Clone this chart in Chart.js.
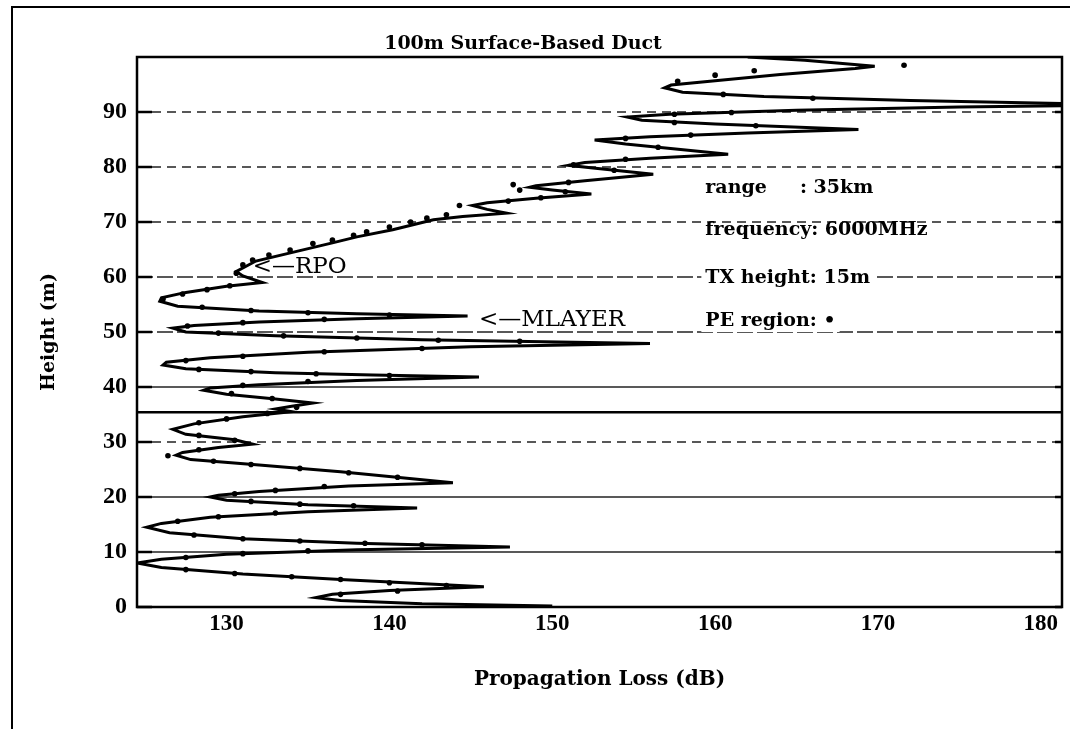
<!DOCTYPE html>
<html>
<head>
<meta charset="utf-8">
<script src="https://cdn.jsdelivr.net/npm/chart.js@4/dist/chart.umd.min.js"></script>
<style>
  html, body { margin: 0; padding: 0; background: #fff; }
</style>
</head>
<body>
<canvas id="myChart" width="1079" height="729"></canvas>
<script>
// propagation loss (dB) vs height (m), RPO solid curve, read from top to bottom
const heightM = [100.0, 99.4, 98.3, 97.9, 96.8, 95.7, 94.9, 94.4, 93.6, 92.8, 92.1, 91.3, 90.9, 90.3, 89.6, 89.1,
  88.5, 87.8, 86.8, 86.2, 85.5, 84.9, 84.2, 82.3, 81.6, 80.8, 80.3, 79.8, 78.7, 77.5, 76.6, 76.3, 75.8, 75.1,
  74.3, 73.5, 73.0, 72.3, 71.6, 71.0, 70.4, 68.6, 67.3, 66.2, 64.8, 62.9, 61.0, 60.2, 59.0, 58.3, 57.2, 56.2,
  55.6, 54.7, 53.8, 53.3, 52.9, 52.4, 51.8, 51.2, 50.7, 50.0, 49.3, 48.6, 47.9, 47.3, 46.3, 45.3, 44.5, 44.0,
  43.3, 42.6, 42.2, 41.8, 41.2, 40.4, 39.8, 39.4, 38.7, 37.8, 37.1, 36.5, 36.0, 35.5, 34.6, 33.3, 32.3, 31.4,
  30.4, 29.6, 29.0, 28.1, 27.6, 26.8, 25.8, 24.6, 22.6, 22.0, 21.0, 20.3, 20.0, 19.4, 18.6, 18.0, 17.3, 16.3,
  15.2, 14.5, 13.5, 12.4, 11.6, 10.9, 10.4, 9.6, 8.7, 8.0, 7.2, 6.0, 5.0, 3.7, 3.0, 2.3, 1.7, 1.2, 0.6, 0.2]
const lossDb = [162.0, 165.5, 169.8, 168.6, 164.0, 160.0, 157.3, 156.9, 158.0, 163.0, 172.0, 185.0, 175.0, 165.0, 157.2, 154.6,
  155.5, 160.0, 168.8, 162.0, 156.0, 152.6, 154.5, 160.8, 156.0, 152.0, 151.0, 152.5, 156.2, 152.0, 149.0, 148.6, 150.0, 152.4,
  149.0, 146.0, 145.1, 146.0, 147.2, 144.5, 142.7, 140.2, 138.0, 136.5, 134.5, 131.8, 130.6, 131.0, 132.2, 130.0, 127.5, 126.0,
  125.9, 127.0, 132.0, 138.0, 144.8, 138.0, 132.0, 128.0, 126.7, 127.5, 133.0, 142.0, 156.0, 145.0, 135.0, 129.0, 126.3, 126.1,
  127.5, 133.0, 139.0, 145.5, 138.0, 132.0, 129.0, 128.6, 130.0, 133.0, 135.3, 134.0, 133.0, 134.0, 131.0, 128.0, 126.7, 127.5,
  130.5, 131.6, 129.5, 127.3, 126.9, 127.8, 132.0, 137.0, 143.9, 137.5, 132.0, 129.5, 129.0, 130.0, 135.0, 141.7, 135.0, 129.0,
  126.0, 125.1, 126.5, 131.0, 138.0, 147.4, 138.0, 130.0, 126.0, 124.5, 126.0, 131.0, 137.0, 145.8, 140.0, 136.5, 135.5, 137.0, 142.0, 150.0]

// PE region dots
const peHeight = [98.5, 97.5, 96.7, 95.6, 93.2, 92.5, 89.9, 89.6, 88.1, 87.5, 85.8, 85.2, 83.6, 81.4, 80.4, 79.4,
  77.2, 76.8, 75.8, 75.5, 74.4, 73.8, 73.0, 71.3, 70.7, 70.0, 69.1, 68.2, 67.6, 66.7, 66.1, 64.9, 64.0, 63.1, 62.2, 60.7,
  58.4, 57.7, 56.9, 56.0, 54.5, 53.9, 53.5, 53.1, 52.3, 51.7, 51.1, 49.8, 49.3, 48.9, 48.5, 48.3, 47.0, 46.4, 45.6, 44.8,
  43.2, 42.8, 42.4, 42.1, 41.0, 40.3, 38.8, 37.9, 36.3, 35.2, 34.2, 33.5, 31.2, 30.3, 28.6, 27.5, 26.5, 25.9, 25.2, 24.4,
  23.6, 21.9, 21.2, 20.6, 19.2, 18.7, 18.4, 17.1, 16.4, 15.6, 13.1, 12.4, 12.0, 11.6, 11.3, 10.2, 9.7, 9.0, 6.8, 6.1,
  5.5, 5.0, 4.4, 3.9, 2.9, 2.3]
const peLoss = [171.6, 162.4, 160.0, 157.7, 160.5, 166.0, 161.0, 157.5, 157.5, 162.5, 158.5, 154.5, 156.5, 154.5, 151.3, 153.8,
  151.0, 147.6, 148.0, 150.8, 149.3, 147.3, 144.3, 143.5, 142.3, 141.3, 140.0, 138.6, 137.8, 136.5, 135.3, 133.9, 132.6, 131.6, 131.0, 130.6,
  130.2, 128.8, 127.3, 126.1, 128.5, 131.5, 135.0, 140.0, 136.0, 131.0, 127.6, 129.5, 133.5, 138.0, 143.0, 148.0, 142.0, 136.0, 131.0, 127.5,
  128.3, 131.5, 135.5, 140.0, 135.0, 131.0, 130.3, 132.8, 134.3, 132.5, 130.0, 128.3, 128.3, 130.5, 128.3, 126.4, 129.2, 131.5, 134.5, 137.5,
  140.5, 136.0, 133.0, 130.5, 131.5, 134.5, 137.8, 133.0, 129.5, 127.0, 128.0, 131.0, 134.5, 138.5, 142.0, 135.0, 131.0, 127.5, 127.5, 130.5,
  134.0, 137.0, 140.0, 143.5, 140.5, 137.0]

const xTicks = [130, 140, 150, 160, 170, 180]
const yTicks = [0, 10, 20, 30, 40, 50, 60, 70, 80, 90]
const ductLine = 35.4

const infoLines = ['range     : 35km', 'frequency: 6000MHz', 'TX height: 15m', 'PE region: \u2022']
const infoHeights = [76.2, 68.5, 59.8, 52.0]
const rpoMark = { text: '<\u2014RPO', loss: 131.6, height: 61.8 }
const mlayerMark = { text: '<\u2014MLAYER', loss: 145.5, height: 52.2 }

const curvePts = heightM.map((h, i) => ({ x: lossDb[i], y: h }))
const pePts = peHeight.map((h, i) => ({ x: peLoss[i], y: h }))

const serif = 'DejaVu Serif'

const framePlugin = {
  id: 'frame',
  beforeDatasetsDraw (chart) {
    const { ctx, chartArea: a, scales: { x, y } } = chart
    ctx.save()
    ctx.strokeStyle = '#000'
    // outer frame of the scan
    ctx.lineWidth = 2
    ctx.beginPath()
    ctx.moveTo(12, 729); ctx.lineTo(12, 7); ctx.lineTo(1070, 7)
    ctx.stroke()

    // horizontal grid lines
    ctx.lineWidth = 1.4
    ctx.strokeStyle = '#222'
    yTicks.forEach(v => {
      if (v === 0) return
      const py = y.getPixelForValue(v)
      if (v >= 70 || v === 30) ctx.setLineDash([9, 6])
      else if (v >= 50) ctx.setLineDash([16, 4])
      else ctx.setLineDash([])
      ctx.beginPath(); ctx.moveTo(a.left, py); ctx.lineTo(a.right, py); ctx.stroke()
    })
    ctx.setLineDash([])

    // solid line across the duct
    ctx.strokeStyle = '#000'
    ctx.lineWidth = 2.5
    const dy = y.getPixelForValue(ductLine)
    ctx.beginPath(); ctx.moveTo(a.left, dy); ctx.lineTo(a.right, dy); ctx.stroke()

    // plot box
    ctx.lineWidth = 2.5
    ctx.strokeRect(a.left, a.top, a.right - a.left, a.bottom - a.top)

    // inward ticks
    yTicks.forEach(v => {
      const py = y.getPixelForValue(v)
      ctx.beginPath(); ctx.moveTo(a.left, py); ctx.lineTo(a.left + 15, py); ctx.stroke()
      ctx.beginPath(); ctx.moveTo(a.right, py); ctx.lineTo(a.right - 7, py); ctx.stroke()
    })
    ctx.restore()
  },
  afterDatasetsDraw (chart) {
    const { ctx, chartArea: a, scales: { x, y } } = chart
    ctx.save()
    ctx.fillStyle = '#000'
    ctx.textBaseline = 'middle'

    // title
    ctx.font = 'bold 19px "' + serif + '"'
    ctx.textAlign = 'center'
    ctx.fillText('100m Surface-Based Duct', a.left + 386, a.top - 13)

    // arrows to curves
    ctx.textAlign = 'left'
    ctx.font = '23px "' + serif + '"'
    ctx.fillText(rpoMark.text, x.getPixelForValue(rpoMark.loss), y.getPixelForValue(rpoMark.height))
    ctx.fillText(mlayerMark.text, x.getPixelForValue(mlayerMark.loss), y.getPixelForValue(mlayerMark.height))

    // info block
    ctx.font = 'bold 19px "' + serif + '"'
    const ix = x.getPixelForValue(159.4)
    infoLines.forEach((t, i) => {
      const py = y.getPixelForValue(infoHeights[i])
      if (i >= 2) {
        const w = ctx.measureText(t).width
        ctx.fillStyle = '#fff'
        ctx.fillRect(ix - 4, py - 11, w + 8, 22)
        ctx.fillStyle = '#000'
      }
      ctx.fillText(t, ix, py)
    })
    ctx.restore()
  }
}

const ctx = document.getElementById('myChart')
new Chart(ctx, {
  type: 'scatter',
  data: {
    datasets: [{
      label: 'RPO',
      data: curvePts,
      showLine: true,
      borderColor: '#000',
      borderWidth: 3,
      pointRadius: 0,
      tension: 0
    }, {
      label: 'PE region',
      data: pePts,
      showLine: false,
      pointRadius: 2.8,
      backgroundColor: '#000',
      borderWidth: 0
    }]
  },
  options: {
    responsive: false,
    animation: false,
    layout: { padding: { top: 57, right: 17, left: 0, bottom: 0 } },
    plugins: { legend: { display: false }, tooltip: { enabled: false } },
    scales: {
      x: {
        type: 'linear',
        min: 124.5,
        max: 181.3,
        grid: { display: false },
        border: { display: false },
        afterBuildTicks: s => { s.ticks = xTicks.map(v => ({ value: v })) },
        afterFit: s => { s.height = 122 },
        ticks: {
          color: '#000',
          padding: -5,
          maxRotation: 0,
          autoSkip: false,
          font: { family: 'Liberation Serif', size: 23, weight: 'bold' }
        },
        title: {
          display: true,
          text: 'Propagation Loss (dB)',
          color: '#000',
          font: { family: serif, size: 20, weight: 'bold' },
          padding: { top: 0, bottom: 37 }
        }
      },
      y: {
        type: 'linear',
        min: 0,
        max: 100,
        grid: { display: false },
        border: { display: false },
        afterBuildTicks: s => { s.ticks = yTicks.map(v => ({ value: v })) },
        afterFit: s => { s.width = 137 },
        ticks: {
          color: '#000',
          padding: 2,
          font: { family: 'Liberation Serif', size: 24, weight: 'bold' }
        },
        title: {
          display: true,
          text: 'Height (m)',
          color: '#000',
          font: { family: serif, size: 19, weight: 'bold' },
          padding: { top: 38, bottom: 0 }
        }
      }
    }
  },
  plugins: [framePlugin]
})
</script>
</body>
</html>
